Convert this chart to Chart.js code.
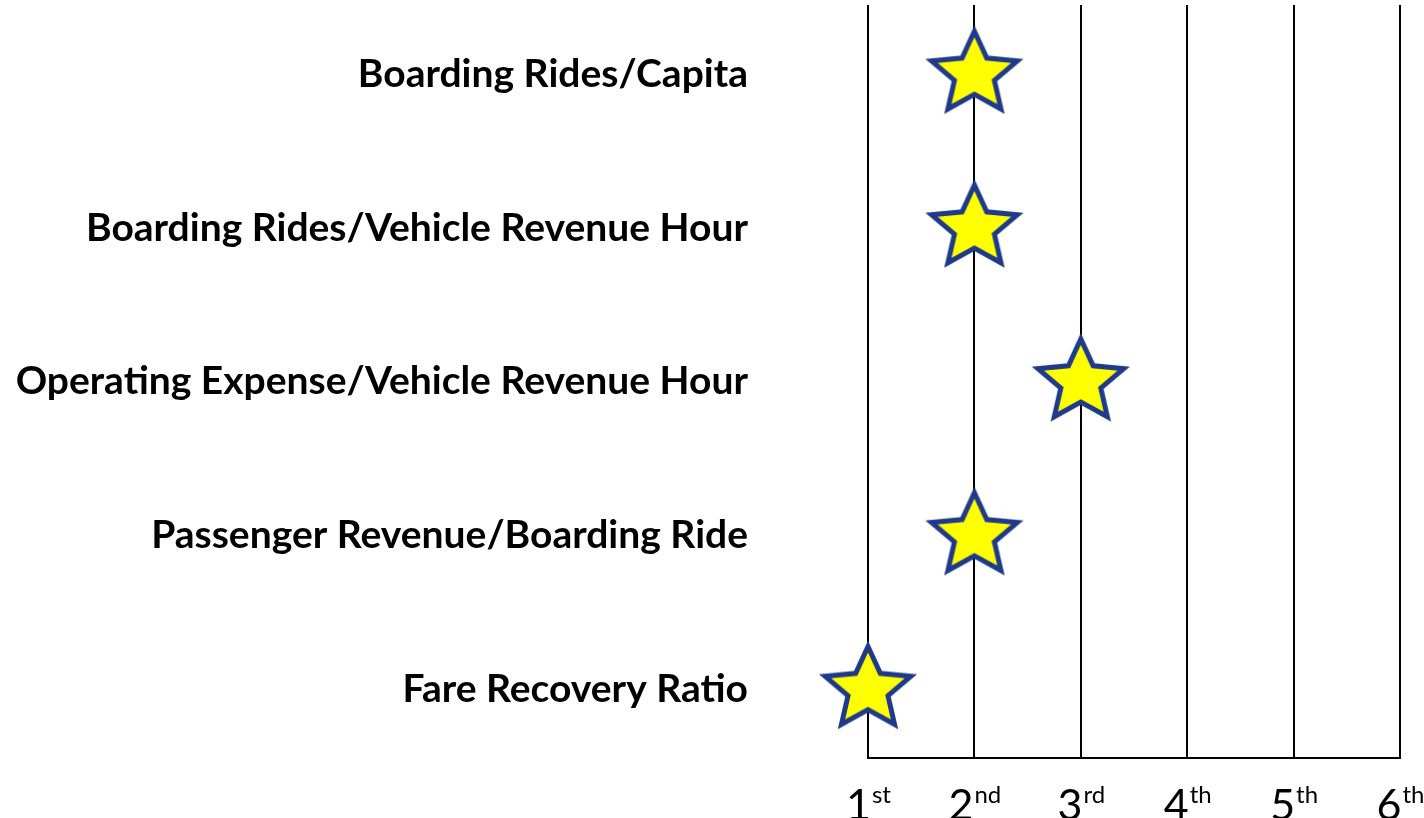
<!DOCTYPE html>
<html>
<head>
<meta charset="utf-8">
<script src="https://cdn.jsdelivr.net/npm/chart.js@4/dist/chart.umd.min.js"></script>
<style>
  html, body { margin: 0; padding: 0; background: #fff; }
  #wrap { width: 1424px; height: 818px; }
</style>
</head>
<body>
<div id="wrap"><canvas id="myChart"></canvas></div>
<script>
// 指標名(上から順)
const categories = [
    'Boarding Rides/Capita',
    'Boarding Rides/Vehicle Revenue Hour',
    'Operating Expense/Vehicle Revenue Hour',
    'Passenger Revenue/Boarding Ride',
    'Fare Recovery Ratio'
];
// 各指標の順位
const ranks = [2, 2, 3, 2, 1];
// x軸ラベル
const rankNumbers = ['1', '2', '3', '4', '5', '6'];
const rankSuffixes = ['st', 'nd', 'rd', 'th', 'th', 'th'];

// 星形のポイント画像を作る
function makeStar() {
    const c = document.createElement('canvas');
    c.width = 120;
    c.height = 120;
    const g = c.getContext('2d');
    const cx = 60, cy = 60, R = 43, r = 20;
    g.beginPath();
    for (let i = 0; i < 10; i++) {
        const rad = i % 2 === 0 ? R : r;
        const a = -Math.PI / 2 + i * Math.PI / 5;
        const px = cx + rad * Math.cos(a) * 1.05;
        const py = cy + rad * Math.sin(a);
        if (i === 0) g.moveTo(px, py); else g.lineTo(px, py);
    }
    g.closePath();
    g.fillStyle = '#FFFF00';
    g.fill();
    g.lineWidth = 5;
    g.lineJoin = 'miter';
    g.miterLimit = 10;
    g.strokeStyle = '#1F3A8A';
    g.stroke();
    return c;
}

// x軸ラベルを上付き文字で描くプラグイン
const rankLabels = {
    id: 'rankLabels',
    afterDraw(chart) {
        const ctx = chart.ctx;
        const xs = chart.scales.x;
        ctx.save();
        ctx.fillStyle = '#000';
        ctx.textBaseline = 'alphabetic';
        ctx.textAlign = 'left';
        rankNumbers.forEach((n, i) => {
            ctx.font = '43px Lato';
            const w1 = ctx.measureText(n).width;
            ctx.font = '24px Lato';
            const w2 = ctx.measureText(rankSuffixes[i]).width;
            const x0 = xs.getPixelForValue(i + 1) - (w1 + w2) / 2;
            ctx.font = '43px Lato';
            ctx.fillText(n, x0, 820);
            ctx.font = '24px Lato';
            ctx.fillText(rankSuffixes[i], x0 + w1 + 1, 803);
        });
        ctx.restore();
    }
};

const points = ranks.map((r, i) => ({ x: r, y: categories.length - i }));

new Chart(document.getElementById('myChart'), {
    type: 'scatter',
    data: {
        datasets: [{
            data: points,
            pointStyle: makeStar(),
            pointRadius: 2,
            pointHoverRadius: 2,
            clip: false
        }]
    },
    options: {
        responsive: true,
        maintainAspectRatio: false,
        animation: false,
        layout: { padding: { top: 5, right: 24, left: 0, bottom: 60 } },
        plugins: {
            legend: { display: false },
            tooltip: { enabled: false }
        },
        scales: {
            x: {
                type: 'linear',
                min: 1,
                max: 6,
                z: 1,
                afterFit: (axis) => {
                    axis.height = 0;
                    axis.paddingLeft = 0;
                    axis.paddingRight = 0;
                },
                ticks: { display: false, stepSize: 1 },
                grid: { color: '#000', lineWidth: 2, drawTicks: false },
                border: { display: true, color: '#000', width: 2 }
            },
            y: {
                type: 'linear',
                min: 0.555,
                max: 5.45,
                afterBuildTicks: (axis) => {
                    axis.ticks = categories.map((c, i) => ({ value: categories.length - i }));
                },
                afterFit: (axis) => {
                    axis.width = 868;
                    axis.paddingTop = 0;
                    axis.paddingBottom = 0;
                },
                ticks: {
                    padding: 120,
                    color: '#000',
                    font: { family: 'Lato', size: 39, weight: 'bold' },
                    callback: (v) => categories[categories.length - v]
                },
                grid: { display: false, drawTicks: false },
                border: { display: false }
            }
        }
    },
    plugins: [rankLabels]
});
</script>
</body>
</html>
